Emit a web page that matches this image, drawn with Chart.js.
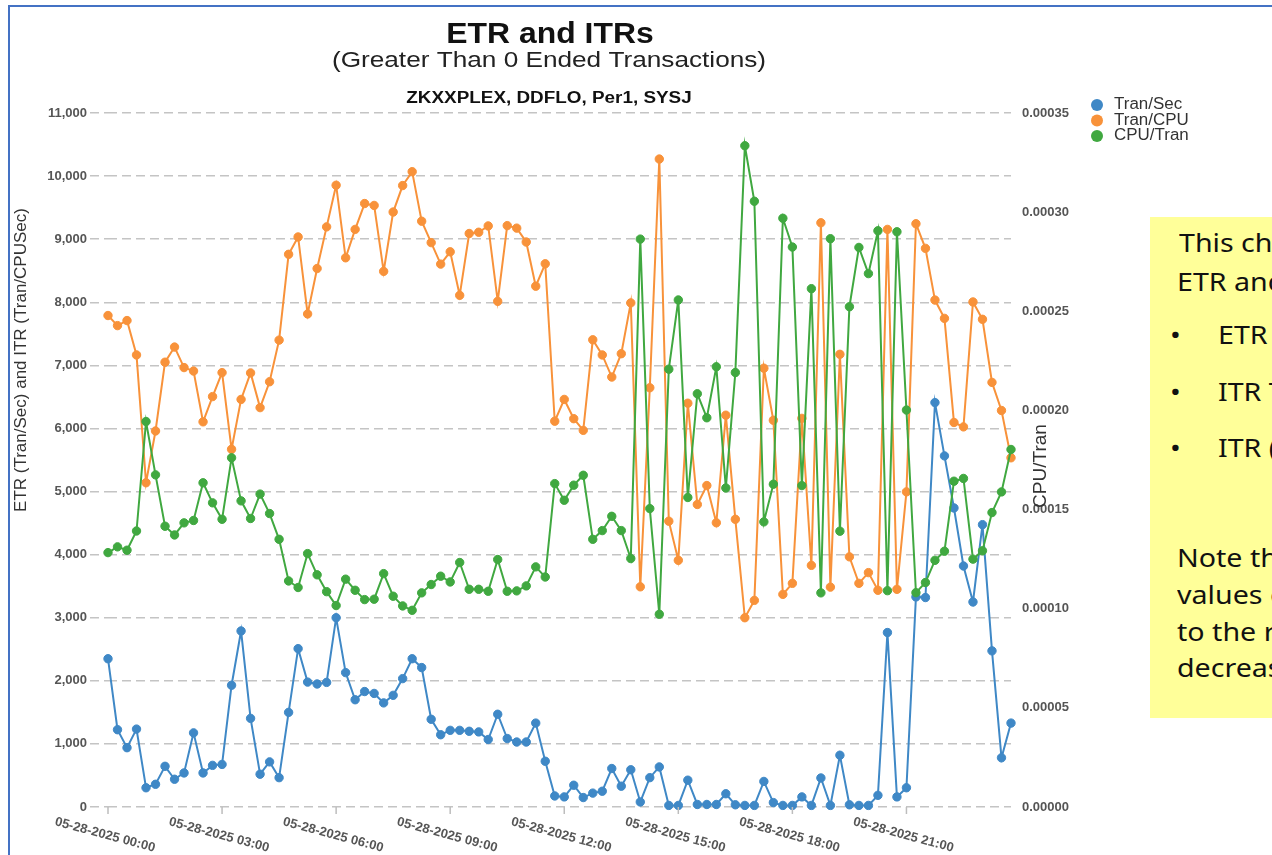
<!DOCTYPE html>
<html>
<head>
<meta charset="utf-8">
<title>ETR and ITRs</title>
<script src="https://cdn.jsdelivr.net/npm/chart.js@4.4.1/dist/chart.umd.min.js"></script>
<style>
  html, body { margin: 0; padding: 0; background: #fff; }
  body { width: 1272px; height: 855px; overflow: hidden; position: relative; }
  #chart { position: absolute; left: 0; top: 0; }
  #frame { position: absolute; left: 8px; top: 5px; width: 1300px; height: 900px;
           border-left: 2px solid #4472c4; border-top: 2px solid #4472c4; pointer-events: none; }
  #note { position: absolute; left: 1150px; top: 217px; width: 260px; height: 501px;
          background: #ffff99; font-family: "Noto Sans", "Open Sans", sans-serif; font-size: 26px;
          color: #111; }
  #note div { position: absolute; line-height: 30px; white-space: nowrap;
              transform: scaleX(1.1); transform-origin: 0 0; }
</style>
</head>
<body>
<canvas id="chart" width="1272" height="855"></canvas>
<div id="frame"></div>
<div id="note">
  <div style="left:29px; top:10px;">This chart shows</div>
  <div style="left:27px; top:49px;">ETR and ITRs</div>
  <div style="left:20px; top:102px;">•</div>
  <div style="left:68px; top:102px;">ETR</div>
  <div style="left:20px; top:159px;">•</div>
  <div style="left:68px; top:159px;">ITR Tran/CPU</div>
  <div style="left:20px; top:215px;">•</div>
  <div style="left:68px; top:215px;">ITR (CPU/Tran)</div>
  <div style="left:27px; top:325px;">Note the</div>
  <div style="left:27px; top:362px;">values of</div>
  <div style="left:27px; top:399px;">to the right</div>
  <div style="left:27px; top:435px;">decrease</div>
</div>
<script>
// 标题
const chartTitle = 'ETR and ITRs';
const chartSubtitle = '(Greater Than 0 Ended Transactions)';
const chartSystem = 'ZKXXPLEX, DDFLO, Per1, SYSJ';

// x轴刻度标签 (每3小时)
const xTickLabels = [
  '05-28-2025 00:00', '05-28-2025 03:00', '05-28-2025 06:00', '05-28-2025 09:00',
  '05-28-2025 12:00', '05-28-2025 15:00', '05-28-2025 18:00', '05-28-2025 21:00'
];

// 15分钟间隔
const categories = [];
for (let h = 0; h < 24; h++) {
  for (let m = 0; m < 60; m += 15) {
    categories.push('05-28-2025 ' + String(h).padStart(2, '0') + ':' + String(m).padStart(2, '0'));
  }
}

const tranSec = [
  2350, 1225, 940, 1235, 305, 360, 645, 440, 540, 1175,
  540, 660, 675, 1930, 2790, 1405, 520, 715, 465, 1500,
  2510, 1980, 1950, 1975, 3000, 2130, 1700, 1830, 1800, 1650,
  1770, 2035, 2350, 2210, 1390, 1145, 1215, 1215, 1200, 1190,
  1070, 1470, 1085, 1030, 1030, 1330, 725, 175, 160, 345,
  150, 220, 250, 610, 330, 590, 80, 465, 635, 25,
  25, 425, 40, 40, 40, 210, 35, 25, 25, 405,
  70, 25, 25, 160, 25, 460, 25, 820, 35, 25,
  25, 185, 2765, 160, 305, 3330, 3320, 6410, 5565, 4740,
  3820, 3250, 4475, 2475, 780, 1330
];

const tranCpu = [
  7790, 7630, 7710, 7165, 5140, 5960, 7050, 7290, 6965, 6910,
  6105, 6505, 6885, 5670, 6460, 6880, 6330, 6740, 7400, 8760,
  9035, 7815, 8535, 9195, 9855, 8705, 9155, 9565, 9535, 8490,
  9430, 9850, 10070, 9285, 8945, 8605, 8800, 8110, 9090, 9110,
  9210, 8015, 9215, 9175, 8955, 8255, 8610, 6115, 6460, 6155,
  5970, 7405, 7165, 6815, 7185, 7990, 3490, 6645, 10270, 4530,
  3910, 6400, 4795, 5095, 4505, 6210, 4560, 3000, 3275, 6955,
  6130, 3370, 3545, 6160, 3830, 9260, 3485, 7175, 3965, 3545,
  3715, 3435, 9155, 3450, 4995, 9245, 8855, 8035, 7745, 6095,
  6025, 8005, 7730, 6730, 6285, 5535
];

const cpuTran = [
  0.0001283, 0.0001312, 0.0001295, 0.0001392, 0.0001944, 0.0001675, 0.0001416, 0.0001372, 0.0001433, 0.0001445,
  0.0001635, 0.0001534, 0.0001451, 0.0001761, 0.0001544, 0.0001455, 0.0001578, 0.0001480, 0.0001350, 0.0001140,
  0.0001107, 0.0001278, 0.0001171, 0.0001086, 0.0001016, 0.0001149, 0.0001093, 0.0001046, 0.0001048, 0.0001177,
  0.0001063, 0.0001014, 0.0000992, 0.0001080, 0.0001122, 0.0001164, 0.0001135, 0.0001233, 0.0001098, 0.0001098,
  0.0001088, 0.0001248, 0.0001088, 0.0001090, 0.0001115, 0.0001211, 0.0001160, 0.0001631, 0.0001547, 0.0001623,
  0.0001673, 0.0001350, 0.0001394, 0.0001466, 0.0001394, 0.0001253, 0.0002864, 0.0001505, 0.0000972, 0.0002208,
  0.0002557, 0.0001561, 0.0002084, 0.0001963, 0.0002220, 0.0001609, 0.0002191, 0.0003335, 0.0003055, 0.0001438,
  0.0001628, 0.0002969, 0.0002824, 0.0001621, 0.0002614, 0.0001080, 0.0002866, 0.0001391, 0.0002523, 0.0002822,
  0.0002690, 0.0002906, 0.0001091, 0.0002901, 0.0002002, 0.0001081, 0.0001132, 0.0001244, 0.0001290, 0.0001643,
  0.0001657, 0.0001250, 0.0001292, 0.0001485, 0.0001589, 0.0001803
];

const seriesNames = ['Tran/Sec', 'Tran/CPU', 'CPU/Tran'];
const seriesColors = ['#3f88c6', '#f8923a', '#40a840'];

const FONT = '"Liberation Sans", Arial, sans-serif';

// 横向拉伸的文字
function stretchText(ctx, text, cx, cy, font, sx, color) {
  ctx.save();
  ctx.font = font;
  ctx.fillStyle = color;
  ctx.textAlign = 'center';
  ctx.textBaseline = 'alphabetic';
  ctx.translate(cx, cy);
  ctx.scale(sx, 1);
  ctx.fillText(text, 0, 0);
  ctx.restore();
}

const overlay = {
  id: 'overlay',
  afterDraw(chart) {
    const ctx = chart.ctx;
    const x = chart.scales.x;
    const area = chart.chartArea;
    ctx.save();

    // 标题
    stretchText(ctx, chartTitle, 550, 43, 'bold 29px ' + FONT, 1.1, '#111');
    stretchText(ctx, chartSubtitle, 549, 67, '22px ' + FONT, 1.19, '#222');
    stretchText(ctx, chartSystem, 549, 103, 'bold 16px ' + FONT, 1.18, '#111');

    // x轴刻度和标签
    ctx.strokeStyle = '#bdbdbd';
    ctx.lineWidth = 1.5;
    ctx.fillStyle = '#555';
    ctx.font = 'bold 13px ' + FONT;
    ctx.textAlign = 'center';
    ctx.textBaseline = 'middle';
    xTickLabels.forEach(label => {
      const px = x.getPixelForValue(categories.indexOf(label));
      ctx.beginPath();
      ctx.moveTo(px, area.bottom);
      ctx.lineTo(px, area.bottom + 7);
      ctx.stroke();
      ctx.save();
      ctx.translate(px - 3, area.bottom + 28);
      ctx.rotate(15 * Math.PI / 180);
      ctx.fillText(label, 0, 0);
      ctx.restore();
    });

    // 轴标题
    ctx.fillStyle = '#333';
    ctx.font = '17px ' + FONT;
    ctx.save();
    ctx.translate(21, 360);
    ctx.rotate(-Math.PI / 2);
    ctx.fillText('ETR (Tran/Sec) and ITR (Tran/CPUSec)', 0, 0);
    ctx.restore();
    ctx.font = '19px ' + FONT;
    ctx.save();
    ctx.translate(1041, 466);
    ctx.rotate(-Math.PI / 2);
    ctx.fillText('CPU/Tran', 0, 0);
    ctx.restore();

    // 图例
    seriesNames.forEach((name, i) => {
      const ly = 105 + i * 15.5;
      ctx.beginPath();
      ctx.fillStyle = seriesColors[i];
      ctx.arc(1097, ly, 6, 0, Math.PI * 2);
      ctx.fill();
      ctx.save();
      ctx.fillStyle = '#333';
      ctx.font = '16px ' + FONT;
      ctx.textAlign = 'left';
      ctx.textBaseline = 'middle';
      ctx.translate(1114, ly);
      ctx.scale(1.06, 1);
      ctx.fillText(name, 0, 0);
      ctx.restore();
    });

    ctx.restore();
  }
};

function makeDataset(idx, data, axis, order) {
  return {
    label: seriesNames[idx],
    data: data,
    yAxisID: axis,
    order: order,
    borderColor: seriesColors[idx],
    backgroundColor: seriesColors[idx],
    borderWidth: 2,
    pointRadius: 4.2,
    pointBorderWidth: 1,
    tension: 0,
    clip: false
  };
}

new Chart(document.getElementById('chart').getContext('2d'), {
  type: 'line',
  data: {
    labels: categories,
    datasets: [
      makeDataset(0, tranSec, 'y', 3),
      makeDataset(1, tranCpu, 'y', 2),
      makeDataset(2, cpuTran, 'y1', 1)
    ]
  },
  options: {
    responsive: false,
    animation: false,
    devicePixelRatio: 1,
    layout: { padding: { top: 113, left: 0, right: 0, bottom: 0 } },
    plugins: {
      legend: { display: false },
      title: { display: false },
      tooltip: { enabled: false }
    },
    scales: {
      x: {
        ticks: { display: false },
        grid: { display: false },
        border: { display: false },
        afterFit: scale => { scale.height = 48; }
      },
      y: {
        position: 'left',
        min: 0,
        max: 11000,
        ticks: {
          stepSize: 1000,
          padding: 3,
          color: '#555',
          font: { family: FONT, size: 13, weight: 'bold' },
          callback: v => v.toLocaleString('en-US')
        },
        grid: {
          color: '#c4c4c4',
          lineWidth: 1.5,
          tickLength: 18,
          tickBorderDash: [9, 5]
        },
        border: { display: false, dash: [9, 5] },
        afterFit: scale => { scale.width = 108; }
      },
      y1: {
        position: 'right',
        min: 0,
        max: 0.00035,
        ticks: {
          stepSize: 0.00005,
          padding: 11,
          color: '#555',
          font: { family: FONT, size: 13, weight: 'bold' },
          callback: v => v.toFixed(5)
        },
        grid: { display: false, drawOnChartArea: false, drawTicks: false },
        border: { display: false },
        afterFit: scale => { scale.width = 261; }
      }
    }
  },
  plugins: [overlay]
});
</script>
</body>
</html>
